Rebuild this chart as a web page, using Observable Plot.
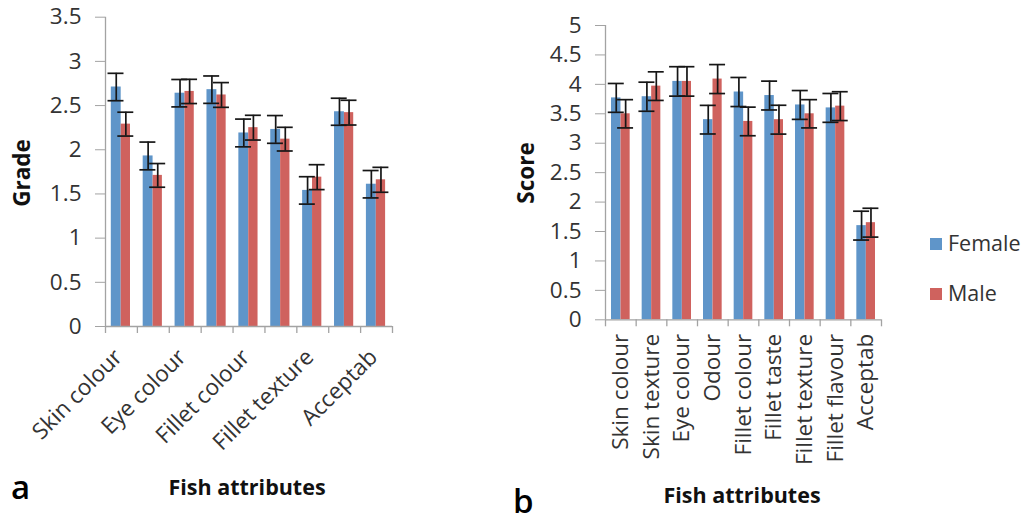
<!DOCTYPE html>
<html>
<head>
<meta charset="utf-8">
<script src="https://cdn.jsdelivr.net/npm/d3@7"></script>
<script src="https://cdn.jsdelivr.net/npm/@observablehq/plot@0.6"></script>
<style>
  html, body { margin: 0; padding: 0; background: #fff; }
  #wrap { position: relative; width: 1026px; height: 523px; overflow: hidden; font-family: 'Open Sans', sans-serif; color: #333; }
  #wrap svg { position: absolute; top: 0; }
  .lbl { position: absolute; white-space: nowrap; line-height: 1; }
</style>
</head>
<body>
<div id="wrap"></div>
<script>
// ---------------- data ----------------
const categories = ["Skin colour","Skin texture","Eye colour","Odour","Fillet colour","Fillet taste","Fillet texture","Fillet flavour","Acceptab"];
const labelsA = ["Skin colour","Eye colour","Fillet colour","Fillet texture","Acceptab"];
const labelsB = categories;
const series = ["Female","Male"];

const gradeFemale    = [2.71, 1.93, 2.64, 2.68, 2.19, 2.23, 1.54, 2.43, 1.61];
const gradeFemaleErr = [0.155, 0.157, 0.155, 0.155, 0.157, 0.157, 0.155, 0.153, 0.155];
const gradeMale      = [2.29, 1.71, 2.66, 2.62, 2.25, 2.12, 1.69, 2.42, 1.66];
const gradeMaleErr   = [0.135, 0.134, 0.137, 0.14, 0.14, 0.134, 0.141, 0.14, 0.141];

const scoreFemale    = [3.77, 3.79, 4.05, 3.40, 3.87, 3.81, 3.65, 3.60, 1.60];
const scoreFemaleErr = [0.245, 0.247, 0.25, 0.243, 0.247, 0.245, 0.245, 0.245, 0.245];
const scoreMale      = [3.50, 3.97, 4.05, 4.09, 3.37, 3.40, 3.50, 3.63, 1.65];
const scoreMaleErr   = [0.24, 0.243, 0.25, 0.246, 0.243, 0.245, 0.24, 0.245, 0.245];

const yTicksA = [0, 0.5, 1, 1.5, 2, 2.5, 3, 3.5];
const yTicksB = [0, 0.5, 1, 1.5, 2, 2.5, 3, 3.5, 4, 4.5, 5];

// ---------------- style ----------------
const BLUE = "#5f95c9", RED = "#cf625e", AXIS = "#a3a3a3", TXT = "#333", ERR = "#161616";
const TICKFONT = 22.5;

function table(f, fe, m, me) {
  return categories.map((c, i) => ({cat: c, f: f[i], fe: fe[i], m: m[i], me: me[i]}));
}

function panel({data, yMax, yTicks, labels, rotate, pad, ldx, left, width, mL, mR, mT, mB, g}) {
  const bw = (width - mL - mR) / categories.length;
  const svg = Plot.plot({
    width, height: 523,
    marginLeft: mL, marginRight: mR, marginTop: mT, marginBottom: mB,
    style: {fontFamily: "'Open Sans', sans-serif", fontSize: TICKFONT + "px", background: "transparent", color: TXT, overflow: "visible"},
    x: {domain: categories, padding: 0, round: false, axis: null},
    y: {domain: [0, yMax], axis: null},
    marks: [
      Plot.barY(data, {x: "cat", y: "f", fill: BLUE, insetLeft: g.bL, insetRight: g.bR}),
      Plot.barY(data, {x: "cat", y: "m", fill: RED, insetLeft: g.rL, insetRight: g.rR}),
      Plot.ruleY([0], {stroke: AXIS, strokeWidth: 1.3}),
      Plot.ruleX([categories[0]], {dx: -bw / 2, stroke: AXIS, strokeWidth: 1.3}),
      Plot.ruleX(categories, {x: d => d, y1: 0, y2: 0, dx: -bw / 2, insetBottom: -7, stroke: AXIS, strokeWidth: 1.3}),
      Plot.ruleX([categories[categories.length - 1]], {x: d => d, y1: 0, y2: 0, dx: bw / 2, insetBottom: -7, stroke: AXIS, strokeWidth: 1.3}),
      // error bars female
      Plot.ruleX(data, {x: "cat", y1: d => d.f - d.fe, y2: d => d.f + d.fe, dx: g.fdx, stroke: ERR, strokeWidth: 1.7}),
      Plot.tickY(data, {x: "cat", y: d => d.f + d.fe, insetLeft: g.cfL, insetRight: g.cfR, stroke: ERR, strokeWidth: 1.7}),
      Plot.tickY(data, {x: "cat", y: d => d.f - d.fe, insetLeft: g.cfL, insetRight: g.cfR, stroke: ERR, strokeWidth: 1.7}),
      // error bars male
      Plot.ruleX(data, {x: "cat", y1: d => d.m - d.me, y2: d => d.m + d.me, dx: g.mdx, stroke: ERR, strokeWidth: 1.7}),
      Plot.tickY(data, {x: "cat", y: d => d.m + d.me, insetLeft: g.cmL, insetRight: g.cmR, stroke: ERR, strokeWidth: 1.7}),
      Plot.tickY(data, {x: "cat", y: d => d.m - d.me, insetLeft: g.cmL, insetRight: g.cmR, stroke: ERR, strokeWidth: 1.7}),
      Plot.axisY({ticks: yTicks, tickSize: 10, tickPadding: 14, stroke: AXIS, fill: TXT, label: null, tickFormat: d => String(d), fontSize: TICKFONT}),
      Plot.axisX({ticks: labels, tickSize: 0, tickPadding: pad, dx: ldx, tickRotate: rotate, fill: TXT, label: null, fontSize: TICKFONT})
    ]
  });
  svg.style.left = left + "px";
  return svg;
}

const wrap = document.getElementById("wrap");

wrap.appendChild(panel({
  data: table(gradeFemale, gradeFemaleErr, gradeMale, gradeMaleErr),
  yMax: 3.5, yTicks: yTicksA, labels: labelsA, rotate: -45, pad: 27, ldx: -3,
  left: 0, width: 420, mL: 105, mR: 28, mT: 16.7, mB: 197,
  g: {bL: 5.8, bR: 16.2, rL: 15.7, rR: 6.9, fdx: -5.2, mdx: 4.4, cfL: 2.5, cfR: 13.4, cmL: 12.3, cmR: 3.6}
}));

wrap.appendChild(panel({
  data: table(scoreFemale, scoreFemaleErr, scoreMale, scoreMaleErr),
  yMax: 5, yTicks: yTicksB, labels: labelsB, rotate: -90, pad: 14, ldx: 0,
  left: 500, width: 400, mL: 105, mR: 19, mT: 25, mB: 203.7,
  g: {bL: 6, bR: 15.2, rL: 15.5, rR: 6, fdx: -4.6, mdx: 4.8, cfL: 2.75, cfR: 11.9, cmL: 12.1, cmR: 2.6}
}));

// ---------------- texts ----------------
function addText(txt, css) {
  const d = document.createElement("div");
  d.className = "lbl";
  d.textContent = txt;
  Object.assign(d.style, css);
  wrap.appendChild(d);
  return d;
}
addText("Grade", {left: "22px", top: "173px", fontWeight: "700", fontSize: "22.5px", color: "#111", transform: "translate(-50%,-50%) rotate(-90deg)"});
addText("Score", {left: "526px", top: "173px", fontWeight: "700", fontSize: "22.5px", color: "#111", transform: "translate(-50%,-50%) rotate(-90deg)"});
addText("Fish attributes", {left: "247px", top: "487px", fontWeight: "700", fontSize: "21.5px", color: "#111", transform: "translate(-50%,-50%)"});
addText("Fish attributes", {left: "742px", top: "495px", fontWeight: "700", fontSize: "21.5px", color: "#111", transform: "translate(-50%,-50%)"});
addText("a", {left: "11px", top: "470px", fontWeight: "600", fontSize: "33px", color: "#000"});
addText("b", {left: "513px", top: "484px", fontWeight: "600", fontSize: "33px", color: "#000"});

// legend
const legColors = [BLUE, RED];
const legTops = [238, 288];
series.forEach((s, i) => {
  const sw = document.createElement("div");
  Object.assign(sw.style, {position: "absolute", left: "930px", top: legTops[i] + "px", width: "12px", height: "12px", background: legColors[i]});
  wrap.appendChild(sw);
  addText(s, {left: "948px", top: (legTops[i] + 6) + "px", fontSize: "21.5px", color: TXT, transform: "translateY(-55%)"});
});
</script>
</body>
</html>
